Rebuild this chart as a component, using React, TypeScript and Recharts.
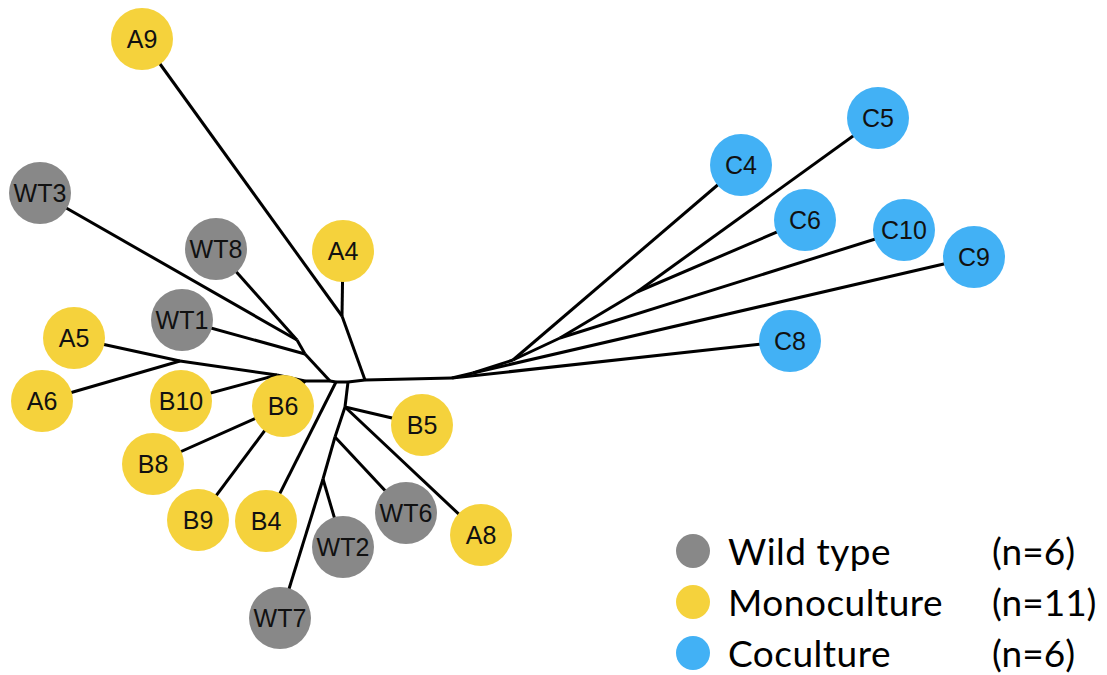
import React from 'react';
import { ScatterChart, Scatter, XAxis, YAxis } from 'recharts';

const W = 1107;
const H = 675;

const COLORS = { wild: '#888888', mono: '#F5D23C', co: '#42B1F5' };

// Leaf positions (tree layout coordinates)
const wildType = [
  { name: 'WT1', x: 182, y: 320 },
  { name: 'WT2', x: 343, y: 547 },
  { name: 'WT3', x: 40, y: 193 },
  { name: 'WT6', x: 406, y: 513 },
  { name: 'WT7', x: 280, y: 618 },
  { name: 'WT8', x: 216, y: 249 },
];

const monoculture = [
  { name: 'A4', x: 343, y: 251 },
  { name: 'A5', x: 74, y: 338 },
  { name: 'A6', x: 42, y: 401 },
  { name: 'A8', x: 481, y: 535 },
  { name: 'A9', x: 142, y: 39 },
  { name: 'B4', x: 266, y: 521 },
  { name: 'B5', x: 422, y: 425 },
  { name: 'B6', x: 283, y: 406 },
  { name: 'B8', x: 153, y: 464 },
  { name: 'B9', x: 198, y: 520 },
  { name: 'B10', x: 181, y: 401 },
];

const coculture = [
  { name: 'C4', x: 741, y: 165 },
  { name: 'C5', x: 878, y: 118 },
  { name: 'C6', x: 805, y: 220 },
  { name: 'C8', x: 790, y: 341 },
  { name: 'C9', x: 974, y: 257 },
  { name: 'C10', x: 904, y: 230 },
];

// Internal (branching) nodes
const innerNodes = [
  { name: 'p1', x: 305, y: 381 },
  { name: 'p2', x: 330, y: 381 },
  { name: 'p3', x: 336, y: 382 },
  { name: 'p4', x: 348, y: 382 },
  { name: 'p5', x: 365, y: 380 },
  { name: 'p6', x: 452, y: 378 },
  { name: 'nAB', x: 277, y: 375 },
  { name: 'nA56', x: 180, y: 361 },
  { name: 'nW1', x: 305, y: 354 },
  { name: 'nW38', x: 297, y: 340 },
  { name: 'q1', x: 345, y: 407 },
  { name: 'q2', x: 335, y: 437 },
  { name: 'q3', x: 323, y: 479 },
  { name: 'nA', x: 342, y: 316 },
  { name: 'c1', x: 473, y: 373 },
  { name: 'c2', x: 513, y: 360 },
  { name: 'c3', x: 560, y: 338 },
  { name: 'c4', x: 637, y: 292 },
];

const edges: [string, string][] = [
  ['p1', 'p2'], ['p2', 'p3'], ['p3', 'p4'], ['p4', 'p5'], ['p5', 'p6'],
  ['p1', 'nAB'], ['nAB', 'B10'], ['nAB', 'nA56'], ['nA56', 'A5'], ['nA56', 'A6'],
  ['p1', 'B6'], ['B6', 'B8'], ['B6', 'B9'],
  ['p2', 'nW1'], ['nW1', 'WT1'], ['nW1', 'nW38'], ['nW38', 'WT3'], ['nW38', 'WT8'],
  ['p3', 'B4'],
  ['p4', 'q1'], ['q1', 'B5'], ['q1', 'A8'], ['q1', 'q2'], ['q2', 'WT6'], ['q2', 'q3'], ['q3', 'WT2'], ['q3', 'WT7'],
  ['p5', 'nA'], ['nA', 'A4'], ['nA', 'A9'],
  ['p6', 'C8'], ['p6', 'c1'], ['c1', 'C9'], ['c1', 'c2'], ['c2', 'C4'], ['c2', 'c3'], ['c3', 'C10'], ['c3', 'c4'], ['c4', 'C5'], ['c4', 'C6'],
];

const legendLabels = ['Wild type', 'Monoculture', 'Coculture'];
const legendCounts = ['(n=6)', '(n=11)', '(n=6)'];
const legendColors = [COLORS.wild, COLORS.mono, COLORS.co];

const allNodes = [...wildType, ...monoculture, ...coculture, ...innerNodes];
const lookup: Record<string, { name: string; x: number; y: number }> = {};
allNodes.forEach((n) => { lookup[n.name] = n; });

const edgeData = edges.map(([a, b]) => [lookup[a], lookup[b]]);

const makeNode = (color: string) => (props: any) => {
  const { cx, cy, payload } = props;
  return (
    <g>
      <circle cx={cx} cy={cy} r={31} fill={color} />
      <text
        x={cx}
        y={cy}
        textAnchor="middle"
        dominantBaseline="central"
        fontSize={25}
        fontFamily="'Liberation Sans', Arial, sans-serif"
        fill="#111"
      >
        {payload.name}
      </text>
    </g>
  );
};

const NoShape = () => <g />;

export default function App() {
  return (
    <div style={{ position: 'absolute', left: 0, top: 0, width: W, height: H, background: '#fff' }}>
      <ScatterChart width={W} height={H} margin={{ top: 0, right: 0, bottom: 0, left: 0 }}>
        <XAxis type="number" dataKey="x" domain={[0, W]} hide allowDataOverflow />
        <YAxis type="number" dataKey="y" domain={[0, H]} hide reversed allowDataOverflow />
        {edgeData.map((seg, i) => (
          <Scatter
            key={`e${i}`}
            data={seg}
            line={{ stroke: '#000', strokeWidth: 3 }}
            stroke="#000"
            shape={NoShape}
            isAnimationActive={false}
          />
        ))}
        <Scatter data={wildType} shape={makeNode(COLORS.wild)} isAnimationActive={false} />
        <Scatter data={monoculture} shape={makeNode(COLORS.mono)} isAnimationActive={false} />
        <Scatter data={coculture} shape={makeNode(COLORS.co)} isAnimationActive={false} />
      </ScatterChart>
      <div style={{ position: 'absolute', left: 676, top: 526, fontFamily: "Lato, 'Open Sans', sans-serif", fontSize: 37, color: '#000' }}>
        {legendLabels.map((label, i) => (
          <div key={label} style={{ position: 'relative', height: 51, width: 430 }}>
            <span style={{ position: 'absolute', left: 0, top: 8, width: 34, height: 34, borderRadius: '50%', background: legendColors[i] }} />
            <span style={{ position: 'absolute', left: 52, top: 0, lineHeight: '50px', letterSpacing: 0.5 }}>{label}</span>
            <span style={{ position: 'absolute', left: 316, top: 0, lineHeight: '50px' }}>{legendCounts[i]}</span>
          </div>
        ))}
      </div>
    </div>
  );
}
